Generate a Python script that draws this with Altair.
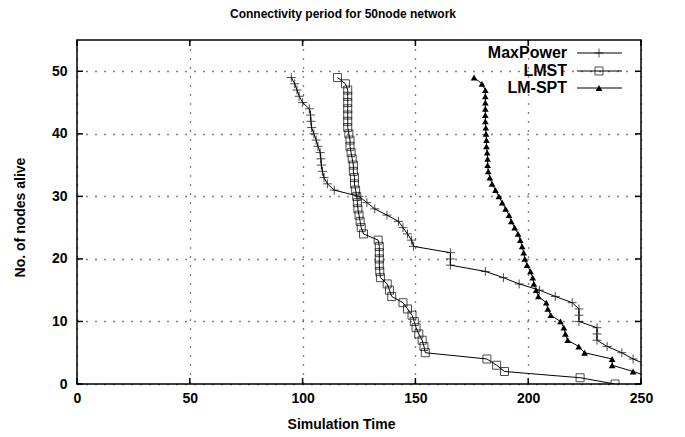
import altair as alt
import pandas as pd

# ---------------- data ----------------
series_names = ["MaxPower", "LMST", "LM-SPT"]

maxpower_alive = list(range(49, 2, -1))          # 49 .. 3
maxpower_time = [95, 96.5, 97.5, 98.5, 100, 103, 103.5, 103.7, 104, 105,
                 106, 106.8, 107.8, 108.1, 108.3, 108.8, 109.5, 111, 114, 125,
                 128.5, 132, 137.4, 142.5, 144.5, 146.5, 148.3, 149.2, 165.5, 165.5,
                 165.5, 181, 189, 196, 205, 212, 219.5, 222.5, 222.5, 222.5,
                 230.5, 230.5, 230.5, 235, 241.5, 246.5, 253]

lmst_alive = list(range(49, -1, -1))             # 49 .. 0
lmst_time = [115.5, 119, 120, 120, 120, 120, 120, 120, 120, 120.5,
             121, 121, 121.5, 122, 122.5, 122.5, 123, 123, 123.5, 124,
             124.3, 124.5, 125, 125.5, 126, 127, 133.5, 134, 134, 134,
             134, 134.2, 134.5, 137.5, 138.5, 139.5, 144.5, 146.5, 148.5, 149.5,
             150.3, 151.5, 153, 153.8, 154.4, 181.7, 186, 189.5, 223, 238.5]

spt_alive = list(range(49, 0, -1))               # 49 .. 1
spt_time = [176, 179.5, 181, 181, 181, 181, 181, 181, 181.2, 181.3,
            181.5, 181.5, 181.8, 182, 182, 182.3, 183, 184, 185.5, 187,
            188.5, 190, 191.5, 192.5, 194, 195.5, 196.5, 197.3, 198, 198.5,
            199.5, 201, 202, 202.5, 203.5, 204.5, 208, 208.7, 210, 214.3,
            215.8, 216.5, 217.5, 222.4, 225, 237.2, 237.2, 246.5, 255]

x_ticks = [0, 50, 100, 150, 200, 250]
y_ticks = [0, 10, 20, 30, 40, 50]

# ---------------- tables ----------------
df = pd.concat([
    pd.DataFrame({"series": "MaxPower", "time": maxpower_time, "alive": maxpower_alive}),
    pd.DataFrame({"series": "LMST", "time": lmst_time, "alive": lmst_alive}),
    pd.DataFrame({"series": "LM-SPT", "time": spt_time, "alive": spt_alive}),
], ignore_index=True)
xt = pd.DataFrame({"v": x_ticks})
yt = pd.DataFrame({"v": y_ticks})

W, H = 564, 344
FONT = "Liberation Sans"

xscale = alt.Scale(domain=[0, 250], nice=False, zero=False)
yscale = alt.Scale(domain=[0, 55], nice=False, zero=False)

common_axis = dict(grid=True, gridDash=[1, 8], gridColor="#000", gridOpacity=1, gridWidth=1.3,
                   ticks=False, domain=False, labelFlush=False, labelOverlap=False,
                   labelFont=FONT, labelFontSize=14, labelFontWeight="bold", labelColor="black",
                   titleFont=FONT, titleFontSize=14, titleFontWeight="bold", titleColor="black")
xaxis = alt.Axis(values=x_ticks, title="Simulation Time", labelPadding=7,
                 titlePadding=12, titleX=264, **common_axis)
yaxis = alt.Axis(values=y_ticks, title="No. of nodes alive", labelPadding=10,
                 titlePadding=24, titleY=177, **common_axis)

ex = alt.X("time:Q", scale=xscale, axis=xaxis)
ey = alt.Y("alive:Q", scale=yscale, axis=yaxis)

base = alt.Chart(df)


def line_for(name):
    return base.transform_filter(alt.datum.series == name).mark_line(
        color="black", strokeWidth=1, clip=True).encode(
        x=ex, y=ey, order=alt.Order("alive:Q", sort="descending"))


cross_path = "M-1,0H1M0,-1V1"

mp_line = line_for("MaxPower")
lm_line = line_for("LMST")
sp_line = line_for("LM-SPT")

mp_pts = base.transform_filter(alt.datum.series == "MaxPower").mark_point(
    shape=cross_path, size=80, filled=False, color="black", strokeWidth=1, clip=True).encode(x=ex, y=ey)
lm_pts = base.transform_filter(alt.datum.series == "LMST").mark_point(
    shape="square", size=64, filled=False, color="black", strokeWidth=1, clip=True).encode(x=ex, y=ey)
sp_pts = base.transform_filter(alt.datum.series == "LM-SPT").mark_point(
    shape="triangle-up", size=45, filled=True, color="black", opacity=1, clip=True).encode(x=ex, y=ey)

# inward tick marks (gnuplot style), mirrored on all four sides
tx = alt.X("v:Q", scale=xscale, axis=xaxis)
ty = alt.Y("v:Q", scale=yscale, axis=yaxis)
tick_b = alt.Chart(xt).mark_rule(color="black", strokeWidth=1.5).encode(x=tx, y=alt.value(H), y2=alt.value(H - 6))
tick_t = alt.Chart(xt).mark_rule(color="black", strokeWidth=1.5).encode(x=tx, y=alt.value(0), y2=alt.value(6))
tick_l = alt.Chart(yt).mark_rule(color="black", strokeWidth=1.5).encode(y=ty, x=alt.value(0), x2=alt.value(6))
tick_r = alt.Chart(yt).mark_rule(color="black", strokeWidth=1.5).encode(y=ty, x=alt.value(W), x2=alt.value(W - 6))

# key (top right, text left of sample as in gnuplot)
leg_rows = [13, 31, 48]
leg_layers = []
leg_shapes = [dict(shape=cross_path, size=80, filled=False, strokeWidth=1),
              dict(shape="square", size=64, filled=False, strokeWidth=1),
              dict(shape="triangle-up", size=45, filled=True, opacity=1)]
leg_df = pd.DataFrame({"series": series_names})
for name, yy, shp in zip(series_names, leg_rows, leg_shapes):
    one = alt.Chart(leg_df).transform_filter(alt.datum.series == name)
    leg_layers.append(one.mark_text(align="right", baseline="middle", font=FONT, fontSize=16,
                                    fontWeight="bold", color="black").encode(
        text="series:N", x=alt.value(490), y=alt.value(yy)))
    leg_layers.append(one.mark_rule(color="black", strokeWidth=1).encode(
        x=alt.value(500), x2=alt.value(545), y=alt.value(yy)))
    leg_layers.append(one.mark_point(color="black", **shp).encode(
        x=alt.value(522), y=alt.value(yy)))

chart = alt.layer(
    mp_line, lm_line, sp_line, mp_pts, lm_pts, sp_pts,
    tick_b, tick_t, tick_l, tick_r, *leg_layers
).properties(
    width=W, height=H,
    background="white",
    title=alt.TitleParams("Connectivity period for 50node network", font=FONT, fontSize=12,
                          fontWeight="bold", color="black", anchor="middle", offset=18, dx=-16),
    padding={"left": 69, "top": 32, "right": 30, "bottom": 50},
    autosize=alt.AutoSizeParams(type="none"),
).configure_view(stroke="black", strokeWidth=1.5)

chart.save("out.html", embed_options={"renderer": "svg", "actions": False})
